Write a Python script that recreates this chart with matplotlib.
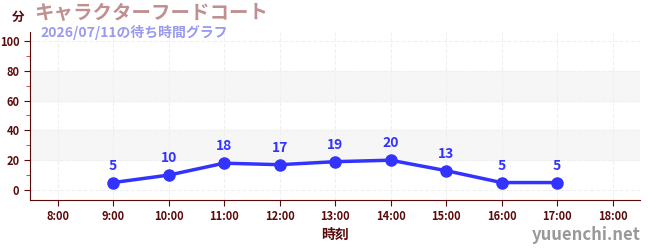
import matplotlib.pyplot as plt
from matplotlib.ticker import MultipleLocator

plt.rcParams['font.family'] = ['Noto Sans CJK JP', 'DejaVu Sans']

hours = [9, 10, 11, 12, 13, 14, 15, 16, 17]
waits = [5, 10, 18, 17, 19, 20, 13, 5, 5]
tick_hours = list(range(8, 19))
tick_labels = [f'{h}:00' for h in tick_hours]

axis_col = '#5a0a0a'
line_col = '#3333ff'

fig = plt.figure(figsize=(6.5, 2.5), dpi=100)
ax = fig.add_axes([0.046, 0.2, 0.939, 0.672])

# shaded bands
for lo, hi in [(20, 40), (60, 80)]:
    ax.axhspan(lo, hi, color='#f6f6f6', zorder=0)

ax.plot(hours, waits, color=line_col, linewidth=2.5, marker='o', markersize=8, zorder=3)
for h, w in zip(hours, waits):
    ax.annotate(str(w), (h, w), textcoords='offset points', xytext=(0, 7),
                ha='center', va='bottom', fontsize=10, fontweight='bold', color=line_col)

ax.set_xlim(7.5, 18.5)
ax.set_ylim(-6.7, 106)
ax.set_xticks(tick_hours)
ax.set_xticklabels(tick_labels)
ax.set_yticks([0, 20, 40, 60, 80, 100])
ax.yaxis.set_minor_locator(MultipleLocator(10))
ax.tick_params(axis='y', which='minor', length=3, color='#dd2222')
ax.tick_params(axis='both', which='major', labelsize=8, colors=axis_col, length=4)
for lab in ax.get_xticklabels() + ax.get_yticklabels():
    lab.set_fontweight('bold')

ax.grid(True, color='#f0f0f0', linestyle='--', linewidth=0.8)
ax.set_axisbelow(True)
for side in ['top', 'right']:
    ax.spines[side].set_visible(False)
for side in ['left', 'bottom']:
    ax.spines[side].set_color(axis_col)

ax.set_xlabel('時刻', fontsize=10, fontweight='bold', color=axis_col, labelpad=3)

fig.text(0.018, 0.93, '分', fontsize=9, fontweight='bold', color=axis_col, va='center')
fig.text(0.052, 0.948, 'キャラクターフードコート', fontsize=14, fontweight='bold', color='#c09090', va='center')
fig.text(0.062, 0.872, '2026/07/11の待ち時間グラフ', fontsize=10, fontweight='bold', color='#9999ee', va='center')
fig.text(0.985, 0.06, 'yuuenchi.net', fontsize=12, fontweight='bold', color='#999999', ha='right', va='center')

fig.savefig('out.png', dpi=100)
